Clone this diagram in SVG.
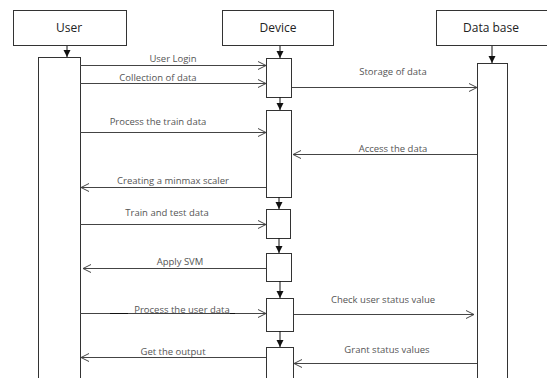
<svg xmlns="http://www.w3.org/2000/svg" width="547" height="378" viewBox="0 0 547 378">
<defs>
<marker id="open" markerWidth="10" markerHeight="10" refX="8" refY="5" orient="auto" markerUnits="userSpaceOnUse"><path d="M0,1 L8,5 L0,9" fill="none" stroke="#444" stroke-width="1"/></marker>
<marker id="fill" markerWidth="8" markerHeight="8" refX="7" refY="4" orient="auto" markerUnits="userSpaceOnUse"><path d="M0,0.5 L7,4 L0,7.5 Z" fill="#111"/></marker>
</defs>
<style>
.box{fill:#fff;stroke:#333;stroke-width:1}
.act{fill:#fff;stroke:#333;stroke-width:1}
.t{font-family:"Open Sans","Noto Sans",sans-serif;font-size:12px;fill:#222;text-anchor:middle}
.l{font-family:"Open Sans","Noto Sans",sans-serif;font-size:9.5px;fill:#555;text-anchor:middle}
.m{stroke:#444;stroke-width:1;fill:none;marker-end:url(#open)}
.d{stroke:#111;stroke-width:1;fill:none;marker-end:url(#fill)}
</style>
<rect width="547" height="378" fill="#fff"/>
<g id="user">
<rect class="box" x="13.5" y="10.5" width="113" height="35"/>
<text class="t" x="69" y="32">User</text>
<rect class="act" x="38.5" y="57.5" width="42" height="330"/>
</g>
<g id="device">
<rect class="box" x="222.5" y="10.5" width="111" height="35"/>
<text class="t" x="278" y="32">Device</text>
<rect class="act" x="266.5" y="58.5" width="25" height="39"/>
<rect class="act" x="266.5" y="110.5" width="25" height="87"/>
<rect class="act" x="266.5" y="209.5" width="24" height="29"/>
<rect class="act" x="266.5" y="253.5" width="25" height="28"/>
<rect class="act" x="266.5" y="298.5" width="27" height="33"/>
<rect class="act" x="266.5" y="347.5" width="27" height="40"/>
</g>
<g id="database">
<rect class="box" x="436.5" y="10.5" width="111" height="35"/>
<text class="t" x="491" y="32">Data base</text>
<rect class="act" x="477.5" y="63.5" width="30" height="330"/>
</g>
<g id="connectors">
<path class="d" d="M67,46 V57"/>
<path class="d" d="M280,46 V58"/>
<path class="d" d="M492,46 V63"/>
<path class="d" d="M280,97 V110"/>
<path class="d" d="M279,197 V209"/>
<path class="d" d="M279,238 V253"/>
<path class="d" d="M280,281 V298"/>
<path class="d" d="M280,331 V347"/>
<path class="m" d="M80,65.5 H266"/>
<path class="m" d="M80,83.5 H266"/>
<path class="m" d="M292,87.5 H477"/>
<path class="m" d="M80,132.5 H266"/>
<path class="m" d="M477,154.5 H293"/>
<path class="m" d="M266,187.5 H81"/>
<path class="m" d="M80,224.5 H266"/>
<path class="m" d="M266,268.5 H83"/>
<path class="m" d="M80,313.5 H266"/>
<path class="m" d="M266,357.5 H81"/>
<path class="m" d="M294,314.5 H474"/>
<path class="m" d="M477,363.5 H294"/>
<path d="M110,313.5 H128 M230,313.5 H235" stroke="#111" stroke-width="1.2"/>
</g>
<g id="labels">
<text class="l" x="173" y="62">User Login</text>
<text class="l" x="158" y="81">Collection of data</text>
<text class="l" x="393" y="75">Storage of data</text>
<text class="l" x="158" y="125">Process the train data</text>
<text class="l" x="393" y="152">Access the data</text>
<text class="l" x="173" y="184">Creating a minmax scaler</text>
<text class="l" x="167" y="216">Train and test data</text>
<text class="l" x="180" y="265">Apply SVM</text>
<text class="l" x="182" y="313">Process the user data</text>
<text class="l" x="173" y="355">Get the output</text>
<text class="l" x="383" y="303">Check user status value</text>
<text class="l" x="387" y="353">Grant status values</text>
</g>
</svg>
